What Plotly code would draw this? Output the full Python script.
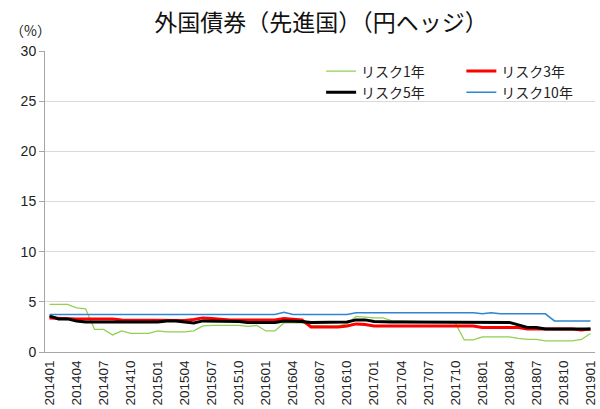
import plotly.graph_objects as go

# monthly labels 201401 .. 201901
months = [f"{y}{m:02d}" for y in range(2014, 2019) for m in range(1, 13)] + ["201901"]

risk1 = [4.75, 4.75, 4.75, 4.4, 4.3, 2.25, 2.25, 1.7, 2.1, 1.85,
         1.85, 1.85, 2.1, 2.0, 2.0, 2.0, 2.1, 2.6, 2.65, 2.65,
         2.6, 2.65, 2.55, 2.65, 2.1, 2.1, 2.9, 2.9, 2.9, 2.65,
         2.6, 2.6, 2.6, 2.8, 3.55, 3.45, 3.4, 3.4, 3.1, 3.1,
         3.05, 3.0, 3.0, 3.0, 3.0, 2.9, 1.2, 1.2, 1.5, 1.5,
         1.5, 1.5, 1.35, 1.25, 1.25, 1.1, 1.1, 1.1, 1.1, 1.25,
         1.85]
risk3 = [3.4, 3.35, 3.35, 3.3, 3.3, 3.3, 3.3, 3.3, 3.2, 3.2,
         3.2, 3.2, 3.2, 3.2, 3.15, 3.15, 3.25, 3.4, 3.35, 3.25,
         3.2, 3.2, 3.2, 3.2, 3.2, 3.2, 3.35, 3.3, 3.2, 2.5,
         2.5, 2.5, 2.5, 2.6, 2.8, 2.75, 2.6, 2.6, 2.6, 2.6,
         2.6, 2.6, 2.6, 2.6, 2.6, 2.6, 2.6, 2.6, 2.45, 2.45,
         2.45, 2.45, 2.45, 2.3, 2.3, 2.3, 2.3, 2.3, 2.3, 2.2,
         2.3]
risk5 = [3.6, 3.3, 3.3, 3.1, 3.0, 3.0, 3.0, 2.95, 2.95, 2.95,
         2.95, 2.95, 3.0, 3.1, 3.1, 3.0, 2.9, 3.1, 3.1, 3.1,
         3.05, 3.05, 2.95, 2.95, 2.95, 2.95, 3.1, 3.1, 3.05, 2.95,
         2.95, 2.95, 2.95, 3.0, 3.2, 3.2, 3.05, 3.0, 3.0, 3.0,
         3.0, 3.0, 3.0, 3.0, 3.0, 3.0, 3.0, 3.0, 2.95, 2.95,
         2.95, 2.95, 2.7, 2.45, 2.45, 2.3, 2.3, 2.3, 2.3, 2.3,
         2.3]
risk10 = [3.75] * 26 + [3.95] + [3.75] * 7 + [3.9] * 14 + [3.8, 3.9] + [3.8] * 6 + [3.1] * 5

tick_labels = months[::3]

font_jp = "Noto Sans CJK JP"

fig = go.Figure()
fig.add_trace(go.Scatter(x=months, y=risk1, name="リスク1年", mode="lines",
                         line=dict(color="#92D050", width=1.3), legend="legend"))
fig.add_trace(go.Scatter(x=months, y=risk3, name="リスク3年", mode="lines",
                         line=dict(color="#FF0000", width=3), legend="legend2"))
fig.add_trace(go.Scatter(x=months, y=risk5, name="リスク5年", mode="lines",
                         line=dict(color="#000000", width=3), legend="legend"))
fig.add_trace(go.Scatter(x=months, y=risk10, name="リスク10年", mode="lines",
                         line=dict(color="#2E86D0", width=1.5), legend="legend2"))

legend_style = dict(font=dict(family=font_jp, size=14, color="#222"),
                    bgcolor="rgba(0,0,0,0)", xanchor="left", yanchor="top",
                    orientation="v", tracegroupgap=0)

fig.update_layout(
    width=600, height=409,
    margin=dict(l=45, r=5, t=51, b=57),
    paper_bgcolor="white", plot_bgcolor="white",
    font=dict(family=font_jp, color="#222"),
    title=dict(text="外国債券（先進国）（円ヘッジ）", x=0.535, xanchor="center",
               y=0.945, yanchor="middle", font=dict(size=23, color="#111")),
    legend=dict(x=0.502, y=0.985, **legend_style),
    legend2=dict(x=0.757, y=0.985, **legend_style),
    annotations=[dict(text="（%）", xref="paper", yref="paper", x=-0.068, y=1.03,
                      xanchor="left", yanchor="bottom", showarrow=False,
                      font=dict(size=14, color="#222"))],
)
fig.update_xaxes(type="category", categoryorder="array", categoryarray=months,
                 range=[-0.5, len(months) - 0.5], automargin=False,
                 tickmode="array", tickvals=tick_labels, ticktext=tick_labels,
                 tickangle=-90, tickfont=dict(family="Liberation Sans", size=13.5, color="#222"),
                 showgrid=False, showline=True, linecolor="#A6A6A6", linewidth=1,
                 ticks="", ticklabelstandoff=2)
fig.update_yaxes(range=[0, 30], dtick=5, automargin=False,
                 tickfont=dict(family="Liberation Sans", size=14, color="#222"),
                 showgrid=True, gridcolor="#D9D9D9", gridwidth=1,
                 showline=True, linecolor="#A6A6A6", linewidth=1,
                 ticks="outside", ticklen=5, tickcolor="#A6A6A6", zeroline=False)

# the page body has a default 8px margin; drop it so the chart fills the window
fig.write_html("out.html", config={"displayModeBar": False},
               post_script="document.body.style.margin='0';")
